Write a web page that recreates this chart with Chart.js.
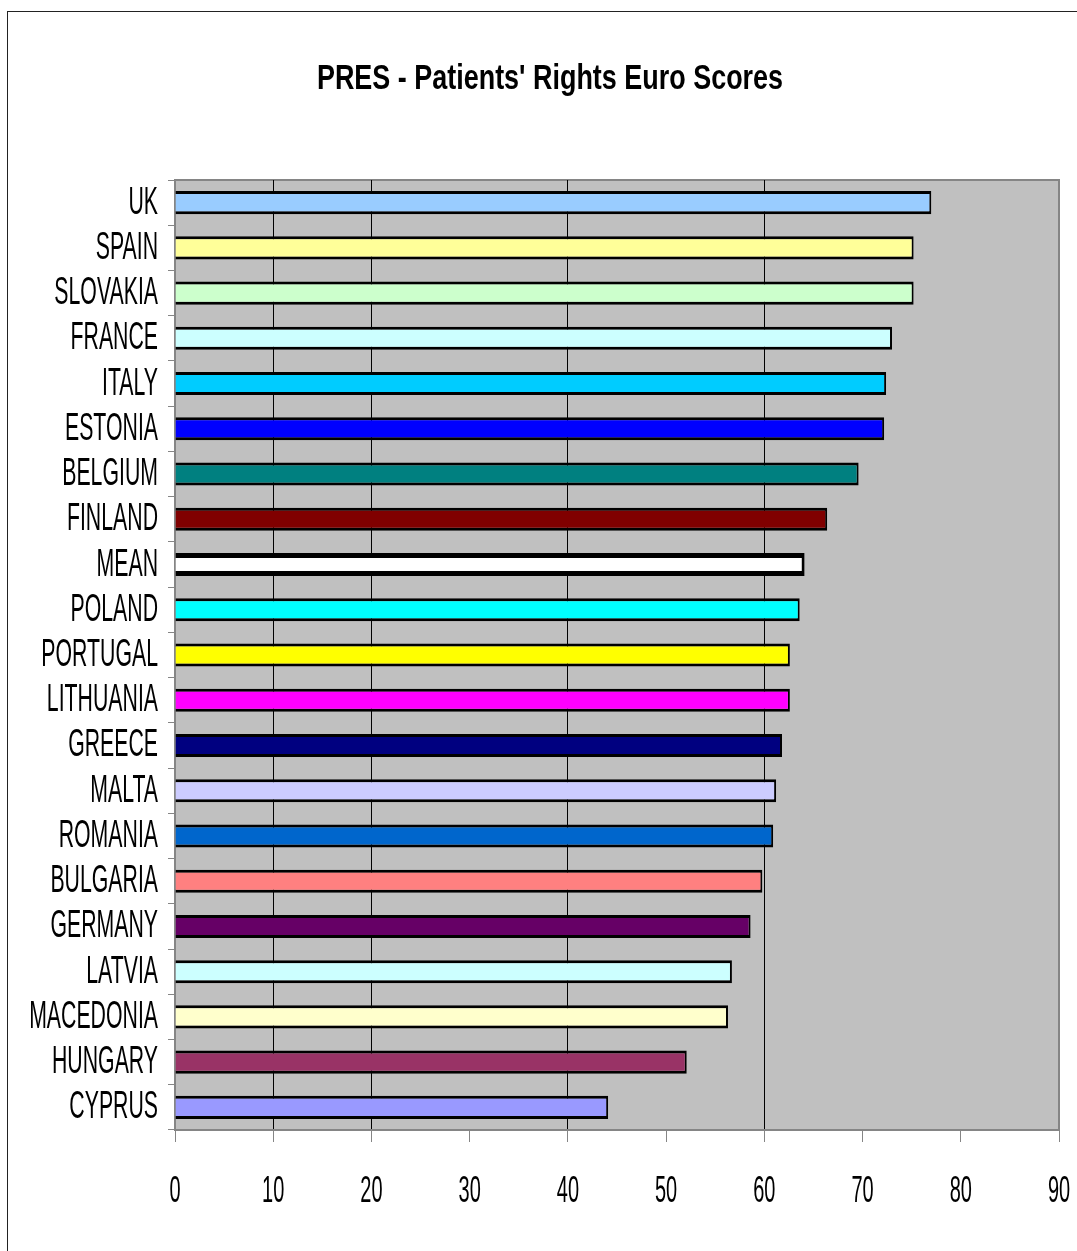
<!DOCTYPE html>
<html>
<head>
<meta charset="utf-8">
<script src="https://cdn.jsdelivr.net/npm/chart.js@4.4.1/dist/chart.umd.min.js"></script>
<style>
  html, body { margin: 0; padding: 0; background: #ffffff; overflow: hidden; }
  #frame { position: absolute; left: 7px; top: 11px; width: 2000px; height: 2000px; border: 1px solid #222; box-sizing: border-box; }
  #wrap { position: absolute; left: 0; top: 0; width: 1077px; height: 1251px; }
</style>
</head>
<body>
<div id="frame"></div>
<div id="wrap"><canvas id="c"></canvas></div>
<script>
const titleText = "PRES - Patients' Rights Euro Scores";
const countries = ["UK","SPAIN","SLOVAKIA","FRANCE","ITALY","ESTONIA","BELGIUM","FINLAND","MEAN","POLAND","PORTUGAL","LITHUANIA","GREECE","MALTA","ROMANIA","BULGARIA","GERMANY","LATVIA","MACEDONIA","HUNGARY","CYPRUS"];
const scores = [77.0, 75.2, 75.2, 73.0, 72.4, 72.2, 69.6, 66.4, 64.1, 63.6, 62.6, 62.6, 61.8, 61.2, 60.9, 59.8, 58.6, 56.7, 56.3, 52.1, 44.1];
const barColors = ["#99CCFF","#FFFF99","#CCFFCC","#CCFFFF","#00CCFF","#0000FF","#008080","#800000","#FFFFFF","#00FFFF","#FFFF00","#FF00FF","#000080","#CCCCFF","#0066CC","#FF8080","#660066","#CCFFFF","#FFFFCC","#993366","#9999FF"];
const xTicks = [0,10,20,30,40,50,60,70,80,90];
const gridShown = [10,20,40,60];

const sans = "'Liberation Sans', Arial, Helvetica, sans-serif";

const plotBg = {
  id: 'plotBg',
  beforeDraw(chart) {
    const {ctx, chartArea: a} = chart;
    ctx.save();
    ctx.fillStyle = '#C0C0C0';
    ctx.fillRect(a.left, a.top, a.right - a.left, a.bottom - a.top);
    ctx.strokeStyle = '#858585';
    ctx.lineWidth = 2;
    ctx.beginPath();
    ctx.moveTo(a.left, a.top);
    ctx.lineTo(a.right, a.top);
    ctx.lineTo(a.right, a.bottom);
    ctx.stroke();
    ctx.restore();
  }
};

// Draws title and tick labels as condensed text (horizontally compressed via fillText maxWidth)
const condensedText = {
  id: 'condensedText',
  afterDraw(chart) {
    const ctx = chart.ctx;
    const ys = chart.scales.y, xs = chart.scales.x;
    ctx.save();
    ctx.fillStyle = '#000000';
    ctx.textBaseline = 'alphabetic';

    // title
    ctx.font = 'bold 35px ' + sans;
    ctx.textAlign = 'center';
    let w = ctx.measureText(titleText).width;
    ctx.fillText(titleText, 550, 89, w * 0.77);

    // category labels
    ctx.font = '38px ' + sans;
    ctx.textAlign = 'right';
    ys.ticks.forEach((t, i) => {
      const lbl = ys.getLabelForValue(t.value);
      const y = ys.getPixelForTick(i);
      const tw = ctx.measureText(lbl).width;
      ctx.fillText(lbl, ys.right - 17, y + 11, tw * 0.56);
    });

    // value labels
    ctx.font = '37px ' + sans;
    ctx.textAlign = 'center';
    xs.ticks.forEach((t, i) => {
      const lbl = String(t.value);
      const x = xs.getPixelForTick(i);
      const tw = ctx.measureText(lbl).width;
      ctx.fillText(lbl, x, xs.top + 72, tw * 0.54);
    });
    ctx.restore();
  }
};

new Chart(document.getElementById('c'), {
  type: 'bar',
  data: {
    labels: countries,
    datasets: [{
      data: scores,
      backgroundColor: barColors,
      borderColor: '#000000',
      borderWidth: (ctx) => ctx.dataIndex === 8 ? {top: 5, bottom: 5, right: 3, left: 3} : {top: 3, bottom: 3, right: 2, left: 2},
      barPercentage: 0.51,
      categoryPercentage: 1.0
    }]
  },
  options: {
    indexAxis: 'y',
    responsive: true,
    maintainAspectRatio: false,
    animation: false,
    events: [],
    layout: { padding: { left: 0, right: 18, top: 180, bottom: 0 } },
    plugins: {
      legend: { display: false },
      tooltip: { enabled: false },
      title: { display: false }
    },
    scales: {
      x: {
        type: 'linear',
        min: 0,
        max: 90,
        afterBuildTicks(scale) { scale.ticks = xTicks.map(v => ({ value: v })); },
        afterFit(scale) { scale.height = 121; },
        border: { display: true, color: '#858585', width: 2 },
        grid: {
          drawOnChartArea: true,
          drawTicks: true,
          tickLength: 12,
          tickColor: '#858585',
          lineWidth: 1,
          color(ctx) { return (ctx.tick && gridShown.includes(ctx.tick.value)) ? '#000000' : 'rgba(0,0,0,0)'; }
        },
        ticks: { display: false, autoSkip: false }
      },
      y: {
        afterFit(scale) { scale.width = 175; },
        border: { display: true, color: '#858585', width: 2 },
        grid: {
          drawOnChartArea: false,
          drawTicks: true,
          tickLength: 7,
          color: '#858585',
          offset: true
        },
        ticks: { display: false, autoSkip: false }
      }
    }
  },
  plugins: [plotBg, condensedText]
});
</script>
</body>
</html>
